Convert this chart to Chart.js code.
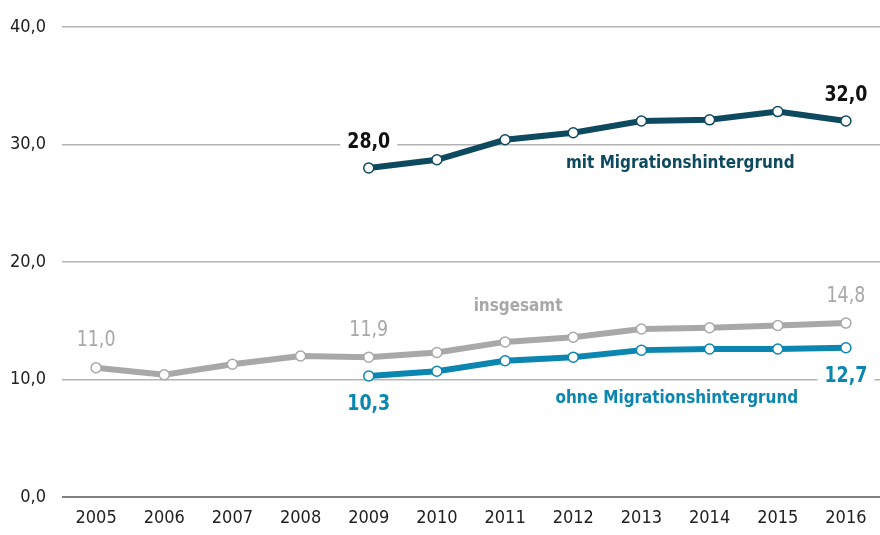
<!DOCTYPE html>
<html><head><meta charset="utf-8">
<script src="https://cdn.jsdelivr.net/npm/chart.js@4.4.1/dist/chart.umd.min.js"></script>
<style>html,body{margin:0;padding:0;background:#fff}#wrap{width:880px;height:535px;position:relative}</style>
</head><body><div id="wrap"><canvas id="c"></canvas></div>
<script>
const years = ["2005","2006","2007","2008","2009","2010","2011","2012","2013","2014","2015","2016"];
const insgesamt = [11.0,10.4,11.3,12.0,11.9,12.3,13.2,13.6,14.3,14.4,14.6,14.8];
const mitMigration = [null,null,null,null,28.0,28.7,30.4,31.0,32.0,32.1,32.8,32.0];
const ohneMigration = [null,null,null,null,10.3,10.7,11.6,11.9,12.5,12.6,12.6,12.7];
const yTicks = [0,10,20,30,40];

const FONT = "'DejaVu Sans'";
const C_GRAY = '#a8a8a8', C_DARK = '#0e4a5f', C_BLUE = '#0a86b0';
const fmt = v => v.toFixed(1).replace('.', ',');

const valueLabels = [
  {ds:0, i:0, dy:-27, color:C_GRAY, bold:false},
  {ds:0, i:4, dy:-27, color:C_GRAY, bold:false},
  {ds:0, i:11, dy:-27, color:C_GRAY, bold:false},
  {ds:1, i:4, dy:-26, color:'#111', bold:true},
  {ds:1, i:11, dy:-26, color:'#111', bold:true},
  {ds:2, i:4, dy:28, color:C_BLUE, bold:true},
  {ds:2, i:11, dy:29, color:C_BLUE, bold:true}
];
const nameLabels = [
  {text:'mit Migrationshintergrund', xIdx:8.57, y:28.37, color:C_DARK},
  {text:'insgesamt', xIdx:6.19, y:16.2, color:C_GRAY},
  {text:'ohne Migrationshintergrund', xIdx:8.52, y:8.4, color:C_BLUE}
];

const SX = 0.88;
const labelPlugin = {
  id:'labels',
  afterDatasetsDraw(chart){
    const ctx = chart.ctx, xs = chart.scales.x, ys = chart.scales.y;
    ctx.save();
    ctx.textAlign='center'; ctx.textBaseline='middle';
    valueLabels.forEach(l=>{
      const v = chart.data.datasets[l.ds].data[l.i];
      const x = xs.getPixelForValue(l.i), y = ys.getPixelForValue(v)+l.dy;
      ctx.font = (l.bold?'bold ':'')+'condensed 22px '+FONT;
      const t = fmt(v), w = ctx.measureText(t).width*SX;
      ctx.fillStyle='#fff'; ctx.fillRect(x-w/2-7, y-11, w+14, 22);
      ctx.save(); ctx.translate(x,y); ctx.scale(SX,1);
      ctx.fillStyle=l.color; ctx.fillText(t,0,0); ctx.restore();
    });
    nameLabels.forEach(l=>{
      const x = xs.left + (l.xIdx+0.5)*(xs.width/years.length);
      const y = ys.getPixelForValue(l.y);
      ctx.font='bold condensed 18px '+FONT;
      ctx.save(); ctx.translate(x,y); ctx.scale(0.94,1);
      ctx.fillStyle=l.color; ctx.fillText(l.text,0,0); ctx.restore();
    });
    ctx.restore();
  }
};

function ds(data,color){
  return {data, borderColor:color, borderWidth:6, pointRadius:5, pointBorderWidth:1.5,
    pointBackgroundColor:'#fff', pointBorderColor:color, tension:0, spanGaps:false, clip:false};
}

new Chart(document.getElementById('c'),{
  type:'line',
  data:{labels:years, datasets:[ds(insgesamt,C_GRAY), ds(mitMigration,C_DARK), ds(ohneMigration,C_BLUE)]},
  options:{
    responsive:true, maintainAspectRatio:false, animation:false,
    layout:{autoPadding:false, padding:{left:0,right:0,top:27,bottom:0}},
    plugins:{legend:{display:false}, tooltip:{enabled:false}},
    scales:{
      x:{offset:true, grid:{display:false, drawTicks:false}, border:{display:false},
         afterFit:a=>{a.height=38; a.paddingLeft=0; a.paddingRight=0;},
         ticks:{color:'#222', font:{family:FONT,size:18,weight:'condensed'}, padding:11, maxRotation:0}},
      y:{min:0,max:40, afterBuildTicks:a=>{a.ticks=yTicks.map(v=>({value:v}));},
         afterFit:a=>{a.width=62;},
         border:{display:false},
         grid:{drawTicks:true, tickLength:16, tickColor:'rgba(0,0,0,0)', color:c=>c.tick&&c.tick.value===0?'#808080':'#b4b4b4', lineWidth:c=>c.tick&&c.tick.value===0?2:1.5},
         ticks:{color:'#222', font:{family:FONT,size:18,weight:'condensed'}, padding:0, callback:v=>fmt(v)}}
    }
  },
  plugins:[labelPlugin]
});
</script></body></html>
